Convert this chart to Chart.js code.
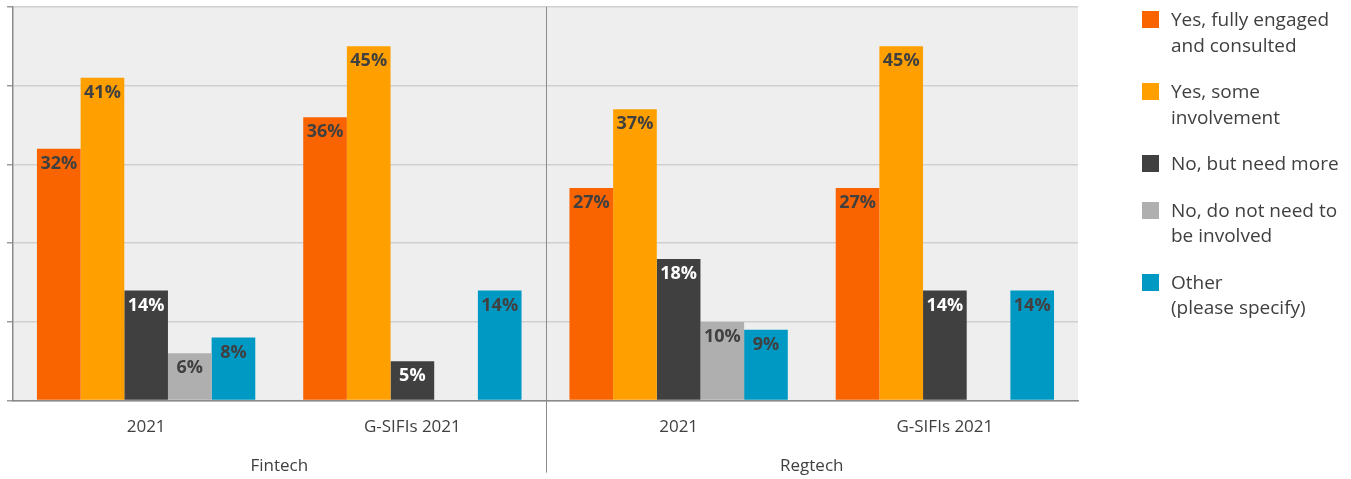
<!DOCTYPE html>
<html>
<head>
<meta charset="utf-8">
<script src="https://cdn.jsdelivr.net/npm/chart.js@4/dist/chart.umd.min.js"></script>
<style>
  html, body { margin: 0; padding: 0; background: #fff; }
  .wrap { position: relative; width: 1351px; height: 479px; }
  #chart { position: absolute; left: 0; top: 0; }
  .legend { position: absolute; left: 1142px; top: 7px; font-family: 'Open Sans', sans-serif; font-size: 19px; color: #404040; }
  .legend-item { display: flex; align-items: flex-start; margin-bottom: 21px; line-height: 25.5px; }
  .legend-box { width: 17px; height: 17px; margin-top: 4px; margin-right: 12px; flex: none; }
</style>
</head>
<body>
<div class="wrap">
  <canvas id="chart" width="1351" height="479"></canvas>
  <div class="legend" id="legend"></div>
</div>
<script>
const categories = ['2021', 'G-SIFIs 2021', '2021', 'G-SIFIs 2021'];
const groups = ['Fintech', 'Regtech']; // each group spans two categories

const seriesNames = [
    ['Yes, fully engaged', 'and consulted'],
    ['Yes, some', 'involvement'],
    ['No, but need more'],
    ['No, do not need to', 'be involved'],
    ['Other', '(please specify)']
];
const fullyEngaged = [32, 36, 27, 27];
const someInvolvement = [41, 45, 37, 45];
const needMore = [14, 5, 18, 14];
const notNeeded = [6, null, 10, null];
const other = [8, 14, 9, 14];

const seriesColors = ['#fa6400', '#ffa000', '#404040', '#afafaf', '#0099c4'];
const labelColors = ['#404040', '#404040', '#ffffff', '#404040', '#404040'];

const yTicks = [0, 10, 20, 30, 40, 50];

Chart.defaults.font.family = "'Open Sans', sans-serif";
Chart.defaults.color = '#404040';

const plotBackground = {
    id: 'plotBackground',
    beforeDraw(chart) {
        const { ctx, chartArea: a } = chart;
        ctx.save();
        ctx.fillStyle = '#eeeeee';
        ctx.fillRect(a.left, a.top, a.right - a.left, a.bottom - a.top);
        ctx.restore();
    }
};

// second level of the x axis: divider and group names
const groupAxis = {
    id: 'groupAxis',
    afterDraw(chart) {
        const { ctx, chartArea: a } = chart;
        const x = chart.scales.x;
        ctx.save();
        ctx.strokeStyle = '#8a8a8a';
        ctx.lineWidth = 1;
        for (let g = 1; g < groups.length; g++) {
            const split = Math.round((x.getPixelForValue(g * 2 - 1) + x.getPixelForValue(g * 2)) / 2) + 0.5;
            ctx.beginPath();
            ctx.moveTo(split, a.top);
            ctx.lineTo(split, a.bottom + 72);
            ctx.stroke();
        }
        ctx.fillStyle = '#404040';
        ctx.font = "17px 'Open Sans', sans-serif";
        ctx.textAlign = 'center';
        ctx.textBaseline = 'middle';
        groups.forEach((name, i) => {
            const cx = (x.getPixelForValue(i * 2) + x.getPixelForValue(i * 2 + 1)) / 2;
            ctx.fillText(name, cx, a.bottom + 66);
        });
        ctx.restore();
    }
};

const barLabels = {
    id: 'barLabels',
    afterDatasetsDraw(chart) {
        const { ctx } = chart;
        ctx.save();
        ctx.font = "bold 18px 'Open Sans', sans-serif";
        ctx.textAlign = 'center';
        ctx.textBaseline = 'middle';
        chart.data.datasets.forEach((ds, i) => {
            const meta = chart.getDatasetMeta(i);
            meta.data.forEach((bar, j) => {
                const v = ds.data[j];
                if (v === null || v === undefined) return;
                ctx.fillStyle = labelColors[i];
                ctx.fillText(v + '%', bar.x, bar.y + 15);
            });
        });
        ctx.restore();
    }
};

const seriesData = [fullyEngaged, someInvolvement, needMore, notNeeded, other];

const chart = new Chart(document.getElementById('chart'), {
    type: 'bar',
    data: {
        labels: categories,
        datasets: seriesData.map((data, i) => ({
            label: seriesNames[i].join(' '),
            data,
            backgroundColor: seriesColors[i],
            borderWidth: 0,
            categoryPercentage: 0.82,
            barPercentage: 1.0
        }))
    },
    options: {
        responsive: false,
        animation: false,
        layout: { padding: { left: 7, top: 7, right: 273, bottom: 26 } },
        plugins: { legend: { display: false }, tooltip: { enabled: false } },
        scales: {
            x: {
                grid: { display: false, drawTicks: false },
                border: { color: '#8a8a8a', width: 1.5 },
                ticks: { padding: 16, color: '#404040', font: { size: 17 } }
            },
            y: {
                min: yTicks[0],
                max: yTicks[yTicks.length - 1],
                afterBuildTicks(scale) { scale.ticks = yTicks.map(v => ({ value: v })); },
                grid: { color: '#cfcfcf', lineWidth: 1.5, tickLength: 6, tickColor: '#9a9a9a' },
                border: { color: '#8a8a8a', width: 1.5 },
                ticks: { display: false }
            }
        }
    },
    plugins: [plotBackground, groupAxis, barLabels]
});

// html legend, built from the chart's datasets
const legendEl = document.getElementById('legend');
chart.data.datasets.forEach((ds, i) => {
    const item = document.createElement('div');
    item.className = 'legend-item';
    const box = document.createElement('span');
    box.className = 'legend-box';
    box.style.background = ds.backgroundColor;
    const text = document.createElement('span');
    text.innerHTML = seriesNames[i].join('<br>');
    item.appendChild(box);
    item.appendChild(text);
    legendEl.appendChild(item);
});
</script>
</body>
</html>
